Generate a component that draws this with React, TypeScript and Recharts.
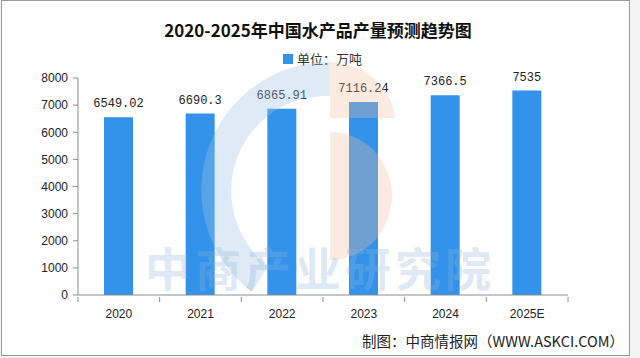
import React from "react";
import { BarChart, Bar, XAxis, YAxis, LabelList } from "recharts";

const YEARS = ["2020", "2021", "2022", "2023", "2024", "2025E"];
const OUTPUT = [6549.02, 6690.3, 6865.91, 7116.24, 7366.5, 7535];
const Y_TICKS = [0, 1000, 2000, 3000, 4000, 5000, 6000, 7000, 8000];

const data = YEARS.map((year, i) => ({ year, value: OUTPUT[i] }));

const BLUE = "#3393ea";
const AXIS = "#8c8c8c";
const FONT = "'Liberation Sans', Arial, sans-serif";
const CJK = "'Noto Sans CJK SC', sans-serif";

// x ticks sit on category boundaries, labels in the middle
function YearTick(props: any) {
  const { x, y, payload, index, visibleTicksCount } = props;
  const half = 81.7 / 2;
  return (
    <g>
      <line x1={x - half} x2={x - half} y1={y - 6} y2={y - 1} stroke={AXIS} />
      {index === visibleTicksCount - 1 && (
        <line x1={x + half} x2={x + half} y1={y - 6} y2={y - 1} stroke={AXIS} />
      )}
      <text x={x} y={y + 11} textAnchor="middle" dominantBaseline="central" fontSize={12} fill="#222" fontFamily={FONT}>
        {payload.value}
      </text>
    </g>
  );
}

function Watermark() {
  return (
    <svg width={640} height={358} style={{ position: "absolute", left: 0, top: 0, pointerEvents: "none" }}>
      <path
        d="M 330 62 A 128 128 0 0 0 252 292 L 268 266 A 95 95 0 0 1 330 96 Z"
        fill="rgba(160,195,228,0.35)"
      />
      <path d="M 330 62 A 70 60 0 0 1 395 118 L 330 118 Z" fill="rgba(240,190,160,0.32)" />
      <path d="M 330 132 A 62 64 0 0 1 330 260 Z" fill="rgba(240,190,160,0.32)" />
      <text
        x={320}
        y={266}
        textAnchor="middle"
        dominantBaseline="central"
        fontSize={46}
        fontWeight={700}
        fontFamily={CJK}
        fill="rgba(140,180,220,0.3)"
        letterSpacing={4}
      >
        中商产业研究院
      </text>
    </svg>
  );
}

export default function App() {
  return (
    <div style={{ position: "absolute", left: 0, top: 0, width: 640, height: 358, background: "#f4f4f4" }}>
      <div
        style={{
          position: "absolute",
          left: 1,
          top: 0,
          width: 627,
          height: 354,
          border: "1px solid #999",
          background: "#fff",
        }}
      />
      <div
        style={{
          position: "absolute",
          left: 0,
          top: 17,
          width: 636,
          textAlign: "center",
          fontFamily: CJK,
          fontWeight: 700,
          fontSize: 17,
          color: "#111",
        }}
      >
        2020-2025年中国水产品产量预测趋势图
      </div>
      <div
        style={{
          position: "absolute",
          left: 283,
          top: 49,
          display: "flex",
          alignItems: "center",
          fontFamily: CJK,
          fontSize: 13,
          color: "#333",
        }}
      >
        <span style={{ width: 10, height: 10, background: BLUE, marginRight: 4, display: "inline-block" }} />
        单位：万吨
      </div>
      <BarChart
        width={640}
        height={358}
        data={data}
        margin={{ top: 78, right: 72, bottom: 33, left: 0 }}
        barSize={29}
        style={{ position: "absolute", left: 0, top: 0 }}
      >
        <XAxis
          dataKey="year"
          tick={<YearTick />}
          tickLine={false}
          axisLine={{ stroke: AXIS }}
          interval={0}
          height={30}
        />
        <YAxis
          domain={[0, 8000]}
          ticks={Y_TICKS}
          width={78}
          tickSize={5}
          tickMargin={5}
          tick={{ fontSize: 12, fill: "#222", fontFamily: FONT }}
          tickLine={{ stroke: AXIS }}
          axisLine={{ stroke: AXIS }}
        />
        <Bar dataKey="value" name="单位：万吨" fill={BLUE} isAnimationActive={false}>
          <LabelList
            dataKey="value"
            position="top"
            offset={10}
            style={{ fontSize: 12, fill: "#222", fontFamily: "'Liberation Mono', monospace" }}
          />
        </Bar>
      </BarChart>
      <Watermark />
      <div
        style={{
          position: "absolute",
          right: 16,
          top: 330,
          fontFamily: CJK,
          fontSize: 14.5,
          color: "#222",
          whiteSpace: "nowrap",
        }}
      >
        制图：中商情报网（WWW.ASKCI.COM）
      </div>
    </div>
  );
}
